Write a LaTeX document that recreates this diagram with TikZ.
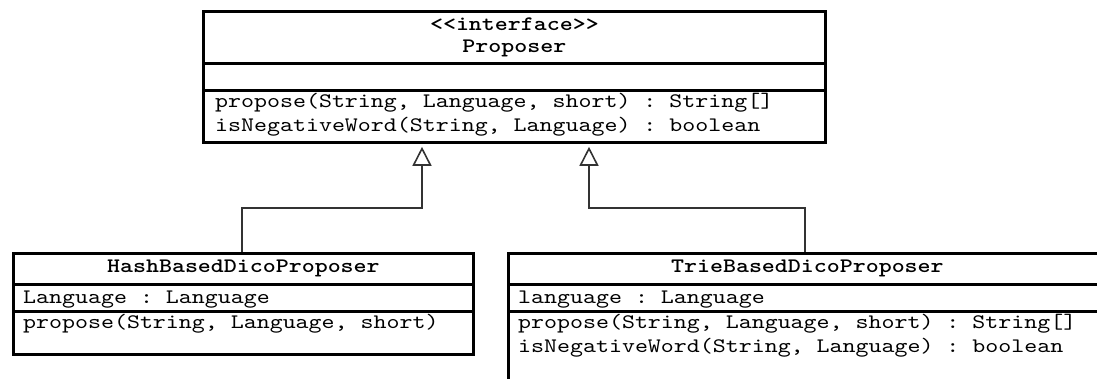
\documentclass[tikz,border=0pt]{standalone}
\usepackage{fontspec}
\setmonofont{lmmono10-regular.otf}[FakeStretch=1.2,BoldFont=lmmonolt10-bold.otf]
\usetikzlibrary{arrows.meta}

\newcommand\umlfont{\fontsize{20.6}{22}\selectfont\ttfamily\frenchspacing}

\begin{document}
\begin{tikzpicture}[x=1pt,y=-1pt,
  part/.style={draw,line width=2.8pt,anchor=north west,inner sep=0pt},
  head/.style={part,font=\umlfont\bfseries,align=center},
  member/.style={anchor=base west,inner sep=0pt,font=\umlfont},
  realizes/.style={draw=black!80,line width=1.6pt,shorten >=3pt,
    -{Triangle[open,length=19pt,width=19pt,line width=1.6pt]}}]
  \useasboundingbox (0,0) rectangle (1097,379);
  \clip (0,0) rectangle (1097,379);

  % interface
  \path
  node[head,minimum width=622pt,minimum height=52pt] (prop-name) at (202,10) {<<interface>>\\Proposer}
  node[part,minimum width=622pt,minimum height=27pt] (prop-attr) at (202,62) {}
  node[part,minimum width=622pt,minimum height=52pt] (prop-ops) at (202,89) {}
  ;
  \node[member] (prop-op1) at ([shift={(13pt,-19pt)}]prop-ops.north west) {propose(String, Language, short) : String[]};
  \node[member] (prop-op2) at ([shift={(13pt,-43pt)}]prop-ops.north west) {isNegativeWord(String, Language) : boolean};

  % hash based
  \path
  node[head,minimum width=460pt,minimum height=31pt] (hash-name) at (12,252) {HashBasedDicoProposer}
  node[part,minimum width=460pt,minimum height=27pt] (hash-attr) at (12,283) {}
  node[part,minimum width=460pt,minimum height=43pt] (hash-ops) at (12,310) {}
  ;
  \node[member] (hash-at1) at ([shift={(11pt,-20pt)}]hash-attr.north west) {Language : Language};
  \node[member] (hash-op1) at ([shift={(11pt,-18pt)}]hash-ops.north west) {propose(String, Language, short)};

  % trie based
  \path
  node[head,minimum width=598pt,minimum height=31pt] (trie-name) at (507,252) {TrieBasedDicoProposer}
  node[part,minimum width=598pt,minimum height=27pt] (trie-attr) at (507,283) {}
  node[part,minimum width=598pt,minimum height=100pt] (trie-ops) at (507,310) {}
  ;
  \node[member] (trie-at1) at ([shift={(11pt,-20pt)}]trie-attr.north west) {language : Language};
  \node[member] (trie-op1) at ([shift={(11pt,-18pt)}]trie-ops.north west) {propose(String, Language, short) : String[]};
  \node[member] (trie-op2) at ([shift={(11pt,-42pt)}]trie-ops.north west) {isNegativeWord(String, Language) : boolean};

  % realizations
  \draw[realizes] ([xshift=230pt]hash-name.north west) -- ++(0,-44) -| ([xshift=220pt]prop-ops.south west);
  \draw[realizes] ([xshift=298pt]trie-name.north west) -- ++(0,-44) -| ([xshift=387pt]prop-ops.south west);
\end{tikzpicture}
\end{document}
